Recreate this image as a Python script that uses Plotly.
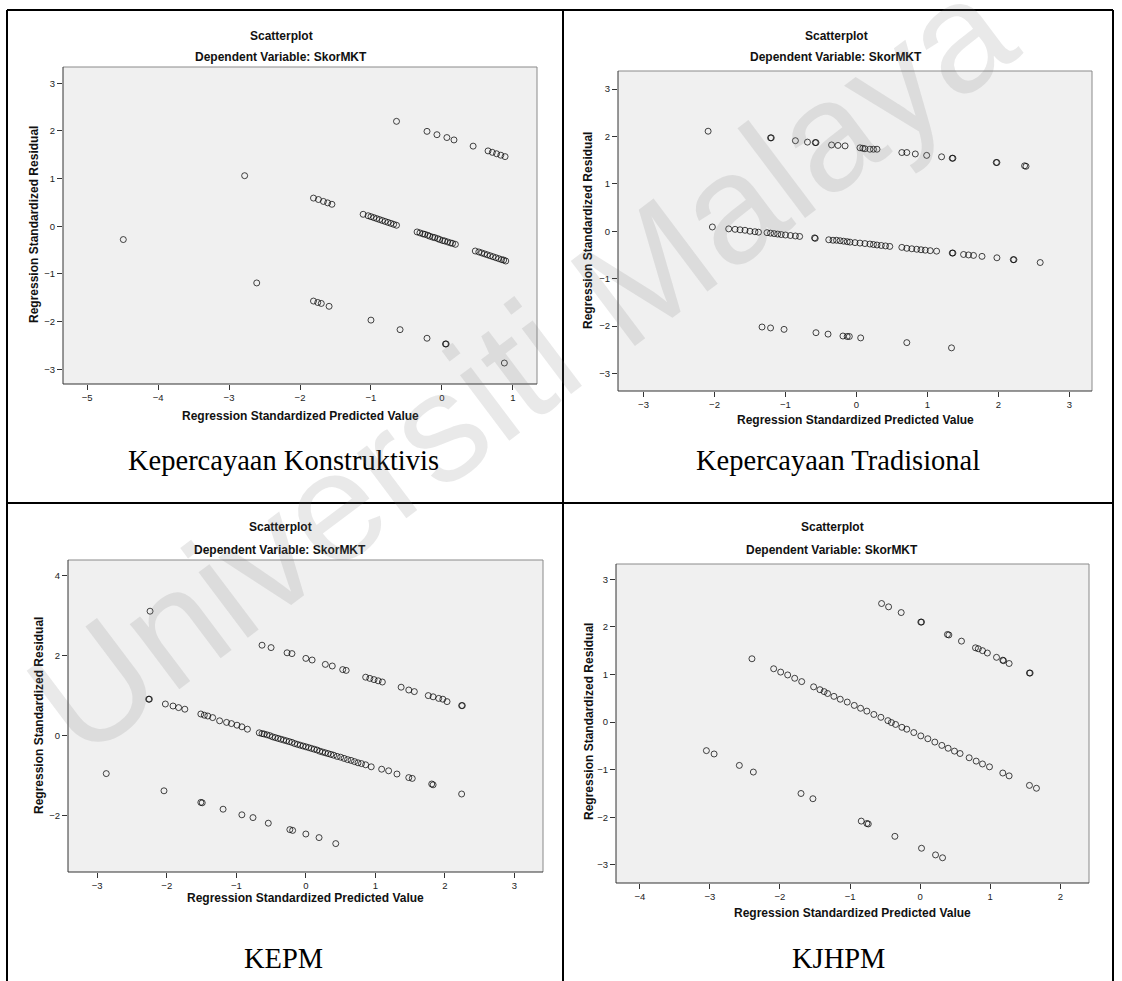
import plotly.graph_objects as go

W, H = 1122, 981

# ---------------- data ----------------
# Panel 1: Kepercayaan Konstruktivis
kk_x = [-4.49, -2.61, -1.81, -1.75, -1.70, -1.59, -1.00, -0.59, -0.21, 0.05, 0.06, 0.88,
        -2.78, -1.81, -1.74, -1.67, -1.61, -1.55, -1.11, -1.04, -1.00, -0.96, -0.92, -0.88,
        -0.84, -0.80, -0.76, -0.72, -0.68, -0.64, -0.35, -0.31, -0.27, -0.24, -0.20, -0.17,
        -0.13, -0.10, -0.06, -0.03, 0.01, 0.04, 0.08, 0.12, 0.15, 0.19, 0.47, 0.52, 0.56,
        0.60, 0.64, 0.68, 0.72, 0.76, 0.80, 0.84, 0.87, 0.90,
        -0.64, -0.21, -0.07, 0.07, 0.17, 0.44, 0.65, 0.71, 0.77, 0.83, 0.89]
kk_y = [-0.28, -1.19, -1.57, -1.60, -1.62, -1.68, -1.97, -2.17, -2.35, -2.47, -2.47, -2.87,
        1.06, 0.59, 0.56, 0.52, 0.49, 0.46, 0.25, 0.22, 0.20, 0.18, 0.16, 0.14,
        0.12, 0.10, 0.08, 0.06, 0.04, 0.02, -0.12, -0.14, -0.16, -0.17, -0.19, -0.21,
        -0.23, -0.24, -0.26, -0.28, -0.30, -0.31, -0.33, -0.35, -0.36, -0.38, -0.52, -0.54, -0.56,
        -0.58, -0.60, -0.62, -0.64, -0.66, -0.68, -0.70, -0.71, -0.73,
        2.20, 1.99, 1.92, 1.86, 1.81, 1.68, 1.58, 1.55, 1.52, 1.49, 1.46]

# Panel 2: Kepercayaan Tradisional
kt_x = [-2.09, -1.21, -1.20, -0.86, -0.69, -0.58, -0.57, -0.35, -0.26, -0.16, 0.05, 0.09,
        0.12, 0.19, 0.24, 0.29, 0.64, 0.71, 0.83, 0.99, 1.20, 1.35, 1.36, 1.97, 1.98, 2.37, 2.39,
        -2.03, -1.80, -1.71, -1.64, -1.57, -1.50, -1.43, -1.38, -1.26, -1.21, -1.16, -1.11,
        -1.06, -1.00, -0.93, -0.86, -0.80, -0.59, -0.58, -0.39, -0.33, -0.28, -0.23, -0.18,
        -0.13, -0.09, -0.02, 0.05, 0.12, 0.19, 0.24, 0.29, 0.35, 0.41, 0.47, 0.64, 0.71, 0.78,
        0.85, 0.91, 0.97, 1.04, 1.13, 1.35, 1.36, 1.51, 1.58, 1.65, 1.77, 1.98, 2.21, 2.22, 2.59,
        -1.33, -1.21, -1.02, -0.57, -0.40, -0.19, -0.13, -0.10, 0.06, 0.71, 1.34]
kt_y = [2.11, 1.97, 1.97, 1.91, 1.88, 1.87, 1.87, 1.82, 1.81, 1.80, 1.76, 1.75,
        1.74, 1.73, 1.73, 1.73, 1.66, 1.66, 1.63, 1.60, 1.57, 1.54, 1.54, 1.45, 1.45, 1.38, 1.37,
        0.09, 0.05, 0.04, 0.03, 0.02, 0.00, -0.01, -0.02, -0.03, -0.04, -0.05, -0.06,
        -0.07, -0.08, -0.09, -0.10, -0.11, -0.14, -0.15, -0.18, -0.19, -0.19, -0.20, -0.21,
        -0.22, -0.23, -0.24, -0.25, -0.26, -0.27, -0.28, -0.29, -0.30, -0.31, -0.32, -0.34, -0.36, -0.37,
        -0.38, -0.39, -0.40, -0.41, -0.42, -0.46, -0.46, -0.49, -0.50, -0.51, -0.53, -0.56, -0.60, -0.60, -0.66,
        -2.02, -2.04, -2.07, -2.14, -2.17, -2.21, -2.22, -2.22, -2.25, -2.35, -2.46]

# Panel 3: KEPM
kepm_x = [-2.24, -2.26, -2.25, -2.87, -2.04,
          -0.63, -0.50, -0.27, -0.20, 0.00, 0.09, 0.28, 0.38, 0.53, 0.58, 0.86, 0.92, 0.98, 1.04,
          1.10, 1.37, 1.48, 1.56, 1.76, 1.83, 1.91, 1.97, 2.03, 2.24, 2.25,
          -2.02, -1.91, -1.83, -1.74, -1.51, -1.46, -1.41, -1.34, -1.24, -1.14, -1.07, -0.99,
          -0.92, -0.84, -0.67, -0.63, -0.60, -0.56, -0.52, -0.48, -0.44, -0.40, -0.36, -0.32,
          -0.28, -0.24, -0.20, -0.16, -0.12, -0.08, -0.04, 0.00, 0.04, 0.08, 0.12, 0.16, 0.20,
          0.24, 0.28, 0.32, 0.36, 0.40, 0.45, 0.50, 0.55, 0.60, 0.65, 0.70, 0.75, 0.80, 0.86, 0.94,
          1.09, 1.19, 1.31, 1.48, 1.53, 1.81, 1.83, 2.24,
          -1.51, -1.49, -1.19, -0.92, -0.76, -0.54, -0.23, -0.19, 0.00, 0.19, 0.43]
kepm_y = [3.11, 0.91, 0.91, -0.95, -1.38,
          2.26, 2.20, 2.07, 2.05, 1.93, 1.89, 1.78, 1.74, 1.65, 1.63, 1.46, 1.43, 1.40, 1.37,
          1.34, 1.21, 1.14, 1.10, 1.00, 0.97, 0.93, 0.91, 0.85, 0.75, 0.75,
          0.79, 0.74, 0.70, 0.66, 0.54, 0.51, 0.49, 0.45, 0.37, 0.33, 0.30, 0.26,
          0.22, 0.16, 0.07, 0.05, 0.04, 0.02, 0.00, -0.03, -0.05, -0.07, -0.09, -0.11,
          -0.13, -0.15, -0.17, -0.20, -0.22, -0.24, -0.26, -0.28, -0.30, -0.32, -0.34, -0.36, -0.39,
          -0.41, -0.43, -0.45, -0.47, -0.49, -0.52, -0.54, -0.57, -0.60, -0.62, -0.65, -0.68, -0.70, -0.73, -0.78,
          -0.84, -0.88, -0.96, -1.05, -1.07, -1.21, -1.23, -1.46,
          -1.67, -1.68, -1.84, -1.98, -2.05, -2.19, -2.35, -2.37, -2.46, -2.55, -2.70]

# Panel 4: KJHPM
kjhpm_x = [-0.55, -0.45, -0.27, 0.01, 0.02, 0.39, 0.41, 0.59, 0.79, 0.83, 0.89, 0.96, 1.09,
           1.18, 1.19, 1.27, 1.56, 1.57,
           -2.40, -2.09, -1.99, -1.89, -1.79, -1.69, -1.52, -1.43, -1.37, -1.32, -1.23, -1.14,
           -1.04, -0.94, -0.85, -0.76, -0.66, -0.56, -0.46, -0.41, -0.35, -0.26, -0.19, -0.09,
           0.01, 0.11, 0.21, 0.31, 0.40, 0.49, 0.57, 0.70, 0.80, 0.89, 0.99, 1.18, 1.27, 1.56, 1.66,
           -3.05, -2.94, -2.58, -2.38, -1.70, -1.53, -0.84, -0.76, -0.74, -0.36, 0.02, 0.22, 0.32]
kjhpm_y = [2.49, 2.42, 2.30, 2.10, 2.10, 1.84, 1.83, 1.70, 1.56, 1.54, 1.50, 1.45, 1.36,
           1.30, 1.29, 1.23, 1.03, 1.03,
           1.33, 1.12, 1.05, 0.99, 0.92, 0.85, 0.74, 0.68, 0.64, 0.60, 0.54, 0.48,
           0.42, 0.35, 0.29, 0.23, 0.16, 0.10, 0.03, -0.01, -0.05, -0.11, -0.15, -0.22,
           -0.29, -0.35, -0.42, -0.49, -0.55, -0.61, -0.66, -0.75, -0.82, -0.88, -0.94, -1.07, -1.13, -1.33, -1.39,
           -0.60, -0.67, -0.91, -1.05, -1.50, -1.61, -2.08, -2.13, -2.14, -2.40, -2.65, -2.79, -2.85]

captions = ["Kepercayaan Konstruktivis", "Kepercayaan Tradisional", "KEPM", "KJHPM"]
x_ticks = [[-5, -4, -3, -2, -1, 0, 1], [-3, -2, -1, 0, 1, 2, 3],
           [-3, -2, -1, 0, 1, 2, 3], [-4, -3, -2, -1, 0, 1, 2]]
y_ticks = [[-3, -2, -1, 0, 1, 2, 3], [-3, -2, -1, 0, 1, 2, 3],
           [-2, 0, 2, 4], [-3, -2, -1, 0, 1, 2, 3]]
series_x = [kk_x, kt_x, kepm_x, kjhpm_x]
series_y = [kk_y, kt_y, kepm_y, kjhpm_y]

# ---------------- layout geometry (pixels) ----------------
panels = [
    dict(box=(63, 67, 537, 384), xr=[-5.34, 1.34], yr=[-3.31, 3.34],
         tx=281, t1=36, t2=57, ytx=34, yty=225, xtx=300, xty=416, cap=(283, 460)),
    dict(box=(618, 71, 1092, 391), xr=[-3.36, 3.32], yr=[-3.37, 3.38],
         tx=836, t1=36, t2=57, ytx=588, yty=231, xtx=855, xty=420, cap=(838, 460)),
    dict(box=(68, 560, 543, 872), xr=[-3.42, 3.41], yr=[-3.41, 4.39],
         tx=280, t1=527, t2=550, ytx=39, yty=716, xtx=305, xty=898, cap=(283, 958)),
    dict(box=(616, 564, 1089, 883), xr=[-4.34, 2.41], yr=[-3.38, 3.32],
         tx=832, t1=527, t2=550, ytx=589, yty=722, xtx=852, xty=913, cap=(838, 958)),
]

def px(x):
    return x / W

def py(y):
    return 1 - y / H

SANS = "Liberation Sans, Arial, sans-serif"
SERIF = "Liberation Serif, Times New Roman, serif"

fig = go.Figure()
shapes = []
annotations = []
layout_axes = {}

for i, p in enumerate(panels):
    n = "" if i == 0 else str(i + 1)
    x0, y0, x1, y1 = p["box"]
    fig.add_trace(go.Scatter(
        x=series_x[i], y=series_y[i], mode="markers",
        xaxis="x" + n, yaxis="y" + n, showlegend=False, hoverinfo="skip",
        marker=dict(symbol="circle-open", size=6, color="rgba(0,0,0,0.72)",
                    line=dict(width=1)),
    ))
    common = dict(showgrid=False, zeroline=False, showline=False, ticks="outside",
                  ticklen=5, tickwidth=1, tickcolor="#333333",
                  tickfont=dict(family=SANS, size=9.5, color="#222222"),
                  fixedrange=True)
    layout_axes["xaxis" + n] = dict(domain=[px(x0), px(x1)], range=p["xr"],
                                    tickvals=x_ticks[i], anchor="y" + n, **common)
    layout_axes["yaxis" + n] = dict(domain=[py(y1), py(y0)], range=p["yr"],
                                    tickvals=y_ticks[i], anchor="x" + n, **common)
    shapes += [
        dict(type="line", xref="paper", yref="paper", x0=px(x0), x1=px(x1), y0=py(y0), y1=py(y0),
             line=dict(color="#8a8a8a", width=1)),
        dict(type="line", xref="paper", yref="paper", x0=px(x1), x1=px(x1), y0=py(y0), y1=py(y1),
             line=dict(color="#8a8a8a", width=1)),
        dict(type="line", xref="paper", yref="paper", x0=px(x0), x1=px(x0), y0=py(y0), y1=py(y1),
             line=dict(color="#333333", width=1)),
        dict(type="line", xref="paper", yref="paper", x0=px(x0), x1=px(x1), y0=py(y1), y1=py(y1),
             line=dict(color="#333333", width=1)),
    ]
    bold = dict(family=SANS, size=12, color="#111111")
    annotations += [
        dict(text="<b>Scatterplot</b>", x=px(p["tx"]), y=py(p["t1"]), font=bold),
        dict(text="<b>Dependent Variable: SkorMKT</b>", x=px(p["tx"]), y=py(p["t2"]), font=bold),
        dict(text="<b>Regression Standardized Residual</b>", x=px(p["ytx"]), y=py(p["yty"]),
             textangle=-90, font=bold),
        dict(text="<b>Regression Standardized Predicted Value</b>", x=px(p["xtx"]), y=py(p["xty"]),
             font=bold),
        dict(text=captions[i], x=px(p["cap"][0]), y=py(p["cap"][1]),
             font=dict(family=SERIF, size=28.5, color="#000000")),
    ]

# table lines
tbl = dict(color="#000000", width=2)
shapes += [
    dict(type="line", xref="paper", yref="paper", x0=px(7), x1=px(1113), y0=py(10), y1=py(10), line=tbl),
    dict(type="line", xref="paper", yref="paper", x0=px(7), x1=px(1113), y0=py(503), y1=py(503), line=tbl),
    dict(type="line", xref="paper", yref="paper", x0=px(7), x1=px(7), y0=py(10), y1=py(981), line=tbl),
    dict(type="line", xref="paper", yref="paper", x0=px(563), x1=px(563), y0=py(10), y1=py(981), line=tbl),
    dict(type="line", xref="paper", yref="paper", x0=px(1113), x1=px(1113), y0=py(10), y1=py(981), line=tbl),
]

# repository watermark
annotations.append(dict(text="Universiti Malaya", x=px(520), y=py(365), textangle=-37,
                        font=dict(family=SANS, size=155, color="rgba(120,120,120,0.16)")))

for a in annotations:
    a.setdefault("xref", "paper")
    a.setdefault("yref", "paper")
    a.setdefault("showarrow", False)
    a.setdefault("xanchor", "center")
    a.setdefault("yanchor", "middle")

fig.update_layout(
    width=W, height=H, margin=dict(l=0, r=0, t=0, b=0),
    paper_bgcolor="#ffffff", plot_bgcolor="#f0f0f0",
    shapes=shapes, annotations=annotations, showlegend=False,
    **layout_axes,
)

fig.write_html("out.html", config={"displayModeBar": False},
               post_script="document.body.style.margin='0px';")
